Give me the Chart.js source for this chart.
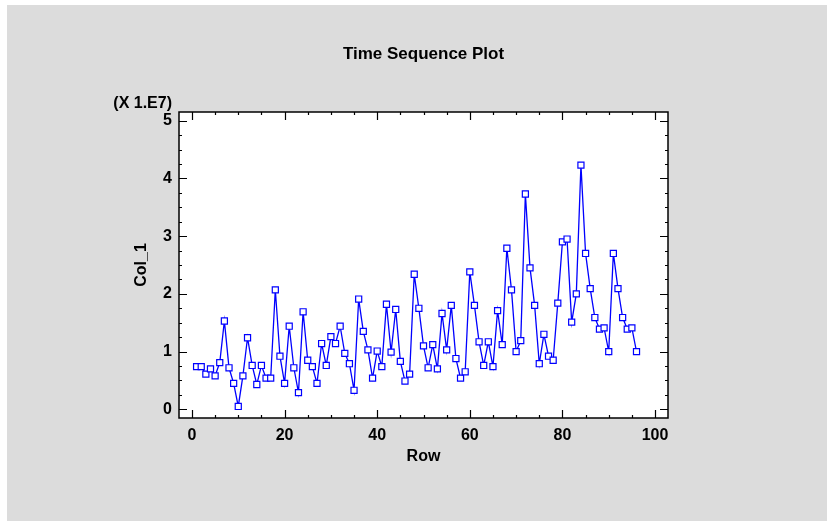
<!DOCTYPE html>
<html>
<head>
<meta charset="utf-8">
<script src="https://cdn.jsdelivr.net/npm/chart.js@4/dist/chart.umd.min.js"></script>
<style>
  html, body { margin: 0; padding: 0; background: #ffffff; }
  #wrap { width: 827px; height: 521px; position: relative; }
</style>
</head>
<body>
<div id="wrap"><canvas id="c" width="827" height="521"></canvas></div>
<script>
// ---- Data (Col_1 in units of 1E7) ----
const chartTitle = 'Time Sequence Plot';
const xTitle = 'Row';
const yTitle = 'Col_1';
const yScaleNote = '(X 1.E7)';
const col1 = [
  0.74, 0.74, 0.61, 0.70, 0.58, 0.81, 1.53, 0.72, 0.45, 0.05,
  0.58, 1.24, 0.76, 0.43, 0.76, 0.54, 0.54, 2.07, 0.92, 0.45,
  1.44, 0.72, 0.29, 1.69, 0.85, 0.74, 0.45, 1.14, 0.76, 1.26,
  1.14, 1.44, 0.97, 0.79, 0.33, 1.91, 1.35, 1.03, 0.54, 1.01,
  0.74, 1.82, 0.99, 1.73, 0.83, 0.49, 0.61, 2.34, 1.75, 1.10,
  0.72, 1.12, 0.70, 1.66, 1.03, 1.80, 0.88, 0.54, 0.65, 2.38,
  1.80, 1.17, 0.76, 1.17, 0.74, 1.71, 1.12, 2.79, 2.07, 1.00,
  1.19, 3.73, 2.45, 1.80, 0.79, 1.30, 0.92, 0.85, 1.84, 2.90,
  2.95, 1.51, 2.00, 4.23, 2.70, 2.09, 1.59, 1.39, 1.41, 1.00,
  2.70, 2.09, 1.59, 1.39, 1.41, 1.00
];
const rows = col1.map((_, i) => i + 1);
const xTickValues = [0, 20, 40, 60, 80, 100];
const yTickValues = [0, 1, 2, 3, 4, 5];
const xMinorStep = 5;
const yMinorStep = 0.25;

// ---- Styling ----
const FONT = 'Liberation Sans, Arial, sans-serif';
const BLUE = '#0000ff';
const PAGE_GREY = '#dcdcdc';

const framePlugin = {
  id: 'frame',
  beforeDraw(chart) {
    const ctx = chart.ctx;
    const {chartArea: a} = chart;
    ctx.save();
    ctx.fillStyle = '#ffffff';
    ctx.fillRect(0, 0, chart.width, chart.height);
    ctx.fillStyle = PAGE_GREY;
    ctx.fillRect(7, 5, chart.width - 7, chart.height - 5);
    ctx.fillStyle = '#ffffff';
    ctx.fillRect(a.left, a.top, a.right - a.left, a.bottom - a.top);
    ctx.restore();
  },
  beforeDatasetsDraw(chart) {
    const ctx = chart.ctx;
    const a = chart.chartArea;
    const xs = chart.scales.x, ys = chart.scales.y;
    ctx.save();
    ctx.strokeStyle = '#000000';
    ctx.lineWidth = 1.5;
    ctx.strokeRect(a.left, a.top, a.right - a.left, a.bottom - a.top);
    ctx.lineWidth = 1.2;
    ctx.beginPath();
    const x0 = xTickValues[0], x1 = xTickValues[xTickValues.length - 1];
    for (let v = x0; v <= x1 + 1e-9; v += xMinorStep) {
      const major = xTickValues.includes(v);
      const len = major ? 8 : 3;
      const px = Math.round(xs.getPixelForValue(v)) + 0.5;
      ctx.moveTo(px, a.bottom); ctx.lineTo(px, a.bottom - len);
      ctx.moveTo(px, a.top); ctx.lineTo(px, a.top + len);
    }
    const y0 = yTickValues[0], y1 = yTickValues[yTickValues.length - 1];
    for (let v = y0; v <= y1 + 1e-9; v += yMinorStep) {
      const major = Math.abs(v - Math.round(v)) < 1e-9;
      const len = major ? 8 : 3;
      const py = Math.round(ys.getPixelForValue(v)) + 0.5;
      ctx.moveTo(a.left, py); ctx.lineTo(a.left + len, py);
      ctx.moveTo(a.right, py); ctx.lineTo(a.right - len, py);
    }
    ctx.stroke();
    ctx.restore();
  },
  afterDraw(chart) {
    const ctx = chart.ctx;
    const a = chart.chartArea;
    ctx.save();
    ctx.fillStyle = '#000000';
    ctx.font = 'bold 17px ' + FONT;
    ctx.textAlign = 'center';
    ctx.textBaseline = 'middle';
    ctx.fillText(chartTitle, (a.left + a.right) / 2, 54);
    ctx.font = 'bold 16px ' + FONT;
    ctx.textAlign = 'right';
    ctx.fillText(yScaleNote, 172, 104);
    ctx.restore();
  }
};

const ctx = document.getElementById('c').getContext('2d');
new Chart(ctx, {
  type: 'line',
  data: {
    datasets: [{
      data: rows.map((r, i) => ({x: r, y: col1[i]})),
      borderColor: BLUE,
      borderWidth: 1.3,
      pointStyle: 'rect',
      pointRadius: 4.3,
      pointBorderWidth: 1.2,
      pointBorderColor: BLUE,
      pointBackgroundColor: '#ffffff',
      tension: 0,
      fill: false
    }]
  },
  options: {
    responsive: false,
    animation: false,
    events: [],
    layout: { padding: { left: 100, right: 159, top: 112, bottom: 40 } },
    plugins: { legend: { display: false }, title: { display: false }, tooltip: { enabled: false } },
    scales: {
      x: {
        type: 'linear',
        min: -2.8, max: 102.8,
        grid: { display: false, drawTicks: false, tickLength: 0 },
        border: { display: false },
        afterBuildTicks(s) { s.ticks = xTickValues.map(v => ({value: v})); },
        afterFit(s) { s.height = 63; },
        ticks: {
          padding: 8,
          color: '#000000',
          font: { family: FONT, size: 16, weight: 'bold' },
          maxRotation: 0,
          callback: v => String(v)
        },
        title: {
          display: true, text: xTitle, color: '#000000',
          font: { family: FONT, size: 16, weight: 'bold' },
          padding: { top: 0, bottom: 15 }
        }
      },
      y: {
        type: 'linear',
        min: -0.15, max: 5.15,
        grid: { display: false, drawTicks: false, tickLength: 0 },
        border: { display: false },
        afterBuildTicks(s) { s.ticks = yTickValues.map(v => ({value: v})); },
        afterFit(s) { s.width = 79; },
        ticks: {
          padding: 7,
          color: '#000000',
          font: { family: FONT, size: 16, weight: 'bold' },
          callback: v => String(v)
        },
        title: {
          display: true, text: yTitle, color: '#000000',
          font: { family: FONT, size: 16, weight: 'bold' },
          padding: { top: 32, bottom: 0 }
        }
      }
    }
  },
  plugins: [framePlugin]
});
</script>
</body>
</html>
